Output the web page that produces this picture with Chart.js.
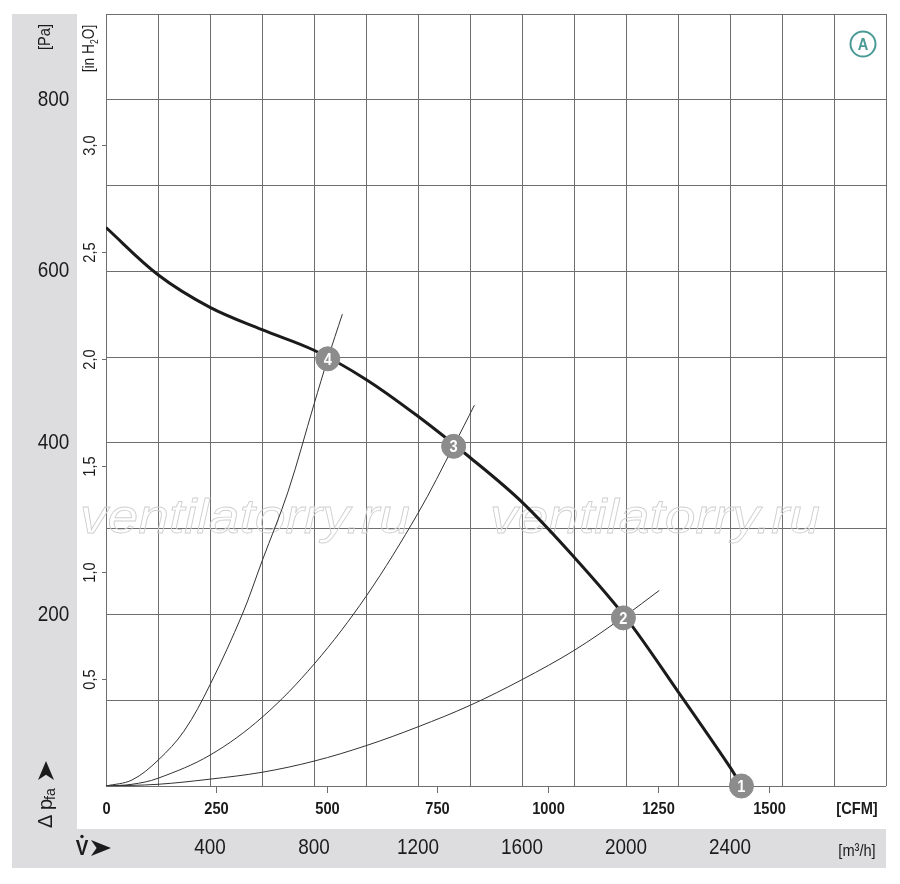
<!DOCTYPE html>
<html>
<head>
<meta charset="utf-8">
<script src="https://cdn.jsdelivr.net/npm/chart.js@4.4.0/dist/chart.umd.min.js"></script>
<style>
	html, body { margin: 0; padding: 0; background: #fff; }
	#wrap { width: 900px; height: 884px; }
</style>
</head>
<body>
<div id="wrap"><canvas id="fanChart" width="900" height="884"></canvas></div>
<script>
(function(){
	// fan curve, flow in m3/h, pressure in Pa
	const fanFlow = [0, 200, 400, 600, 800, 1000, 1200, 1400, 1600, 1800, 2000, 2200, 2400, 2444];
	const fanPa   = [651, 596, 558, 532, 508, 474, 431, 383, 331, 267, 196, 110, 22, 0];

	// system curves (thin)
	const sysAFlow = [0, 100, 200, 300, 400, 524, 600, 700, 800, 853, 909];
	const sysAPa   = [0, 7, 30, 64, 118, 200, 262, 343, 445, 498, 550];
	const sysBFlow = [0, 100, 200, 400, 600, 800, 1000, 1200, 1338, 1417];
	const sysBPa   = [0, 2, 9, 36, 80, 142, 221, 318, 397, 444];
	const sysCFlow = [0, 200, 400, 600, 800, 1000, 1200, 1400, 1600, 1800, 1990, 2128];
	const sysCPa   = [0, 2, 8, 16, 29, 47, 69, 94, 124, 158, 197, 228];

	// operating points
	const opLabels = ['1', '2', '3', '4'];
	const opFlow   = [2444, 1990, 1337, 853];
	const opPa     = [0, 196, 396, 498];

	// tick labels
	const paTicks    = [200, 400, 600, 800];
	const inH2OTicks = [0.5, 1.0, 1.5, 2.0, 2.5, 3.0];
	const cfmTicks   = [0, 250, 500, 750, 1000, 1250, 1500];
	const m3hTicks   = [400, 800, 1200, 1600, 2000, 2400];

	const PA_PER_INH2O = 249.089;
	const M3H_PER_CFM = 1.69901;

	const FONT = '"Liberation Sans", Arial, sans-serif';
	const GRID = '#6e6e6e';
	const BAND = '#dddddf';
	const INK = '#1b1b1b';
	const SQ = 0.86; // squeeze to imitate the condensed face of the print

	function pts(xs, ys){
		return xs.map((x, i) => ({x: x, y: ys[i]}));
	}

	// text squeezed horizontally, optionally rotated
	function label(ctx, text, x, y, font, rot){
		ctx.save();
		ctx.translate(x, y);
		if(rot) ctx.rotate(-Math.PI / 2);
		ctx.scale(SQ, 1);
		ctx.font = font;
		ctx.textAlign = 'center';
		ctx.textBaseline = 'middle';
		ctx.fillText(text, 0, 0);
		ctx.restore();
	}

	// arrowhead as in the print, local frame pointing +x
	function arrowHead(ctx, len, half){
		ctx.beginPath();
		ctx.moveTo(len, 0);
		ctx.lineTo(0, -half);
		ctx.lineTo(len * 0.28, 0);
		ctx.lineTo(0, half);
		ctx.closePath();
		ctx.fill();
	}

	const decor = {
		id: 'decor',
		beforeDraw(chart){
			const ctx = chart.ctx;
			ctx.save();
			ctx.fillStyle = '#fff';
			ctx.fillRect(0, 0, chart.width, chart.height);
			ctx.fillStyle = BAND;
			ctx.fillRect(12, 14, 65, 815);
			ctx.fillRect(12, 829, 874, 39);
			ctx.restore();
		},
		beforeDatasetsDraw(chart){
			const ctx = chart.ctx;
			ctx.save();
			ctx.font = 'italic 48px ' + FONT;
			ctx.strokeStyle = '#cfcfcf';
			ctx.lineWidth = 0.8;
			ctx.textBaseline = 'alphabetic';
			const word = 'ventilatorry.ru';
			const w = ctx.measureText(word).width;
			[[80, 410], [490, 820]].forEach(([x0, x1]) => {
				ctx.save();
				ctx.translate(x0, 533);
				ctx.scale((x1 - x0) / w, 1);
				ctx.strokeText(word, 0, 0);
				ctx.restore();
			});
			ctx.restore();
		},
		afterDatasetsDraw(chart){
			const ctx = chart.ctx;
			const meta = chart.getDatasetMeta(0);
			ctx.save();
			ctx.fillStyle = '#fff';
			meta.data.forEach((pt, i) => {
				label(ctx, opLabels[i], pt.x, pt.y + 1, 'bold 17px ' + FONT);
			});
			ctx.restore();
		},
		afterDraw(chart){
			const ctx = chart.ctx;
			const xs = chart.scales.x, ys = chart.scales.y;
			const area = chart.chartArea;
			ctx.save();
			ctx.fillStyle = INK;
			ctx.strokeStyle = GRID;
			ctx.lineWidth = 1;

			// Pa labels in the grey band
			paTicks.forEach(v => label(ctx, String(v), 53.5, ys.getPixelForValue(v), '22px ' + FONT));
			label(ctx, '[Pa]', 45, 37, '17px ' + FONT, true);

			// in H2O axis
			inH2OTicks.forEach(v => {
				const y = Math.round(ys.getPixelForValue(v * PA_PER_INH2O)) + 0.5;
				ctx.beginPath();
				ctx.moveTo(area.left - 4, y);
				ctx.lineTo(area.left, y);
				ctx.stroke();
				label(ctx, v.toFixed(1).replace('.', ','), 90, y, '17px ' + FONT, true);
			});
			// [in H2O] with subscript
			ctx.save();
			ctx.translate(90, 48.5);
			ctx.rotate(-Math.PI / 2);
			ctx.scale(SQ, 1);
			ctx.textBaseline = 'middle';
			ctx.textAlign = 'left';
			const big = '16px ' + FONT, small = '10px ' + FONT;
			ctx.font = big;
			const wa = ctx.measureText('[in H').width;
			const wc = ctx.measureText('O]').width;
			ctx.font = small;
			const wb = ctx.measureText('2').width;
			let cx = -(wa + wb + wc) / 2;
			ctx.font = big;
			ctx.fillText('[in H', cx, 0);
			cx += wa;
			ctx.font = small;
			ctx.fillText('2', cx, 5);
			cx += wb;
			ctx.font = big;
			ctx.fillText('O]', cx, 0);
			ctx.restore();

			// delta p_fa with arrow
			ctx.save();
			ctx.translate(46, 795);
			ctx.rotate(-Math.PI / 2);
			ctx.textBaseline = 'middle';
			ctx.textAlign = 'left';
			ctx.font = '20px ' + FONT;
			ctx.fillText('\u0394', -33, 0);
			ctx.fillText('p', -15, 0);
			ctx.font = '14px ' + FONT;
			ctx.fillText('fa', -5, 5);
			ctx.translate(15, 0);
			arrowHead(ctx, 19, 8);
			ctx.restore();

			// CFM axis
			cfmTicks.forEach(v => {
				const x = Math.round(xs.getPixelForValue(v * M3H_PER_CFM)) + 0.5;
				if(v > 0){
					ctx.beginPath();
					ctx.moveTo(x, area.bottom);
					ctx.lineTo(x, area.bottom + 7);
					ctx.stroke();
				}
				label(ctx, String(v), x, 809, 'bold 17px ' + FONT);
			});
			label(ctx, '[CFM]', 857, 809, 'bold 17px ' + FONT);

			// m3/h axis in the bottom band
			m3hTicks.forEach(v => label(ctx, String(v), xs.getPixelForValue(v), 848, '22px ' + FONT));
			label(ctx, '[m\u00b3/h]', 857, 851, '17px ' + FONT);

			// V-dot with arrow
			label(ctx, 'V', 82, 849, 'bold 22px ' + FONT);
			ctx.beginPath();
			ctx.arc(82, 836.5, 1.7, 0, Math.PI * 2);
			ctx.fill();
			ctx.save();
			ctx.translate(91, 848);
			arrowHead(ctx, 20, 8);
			ctx.restore();

			// circled A
			ctx.strokeStyle = '#4a9a96';
			ctx.fillStyle = '#4a9a96';
			ctx.lineWidth = 2;
			ctx.beginPath();
			ctx.arc(863, 44, 12.5, 0, Math.PI * 2);
			ctx.stroke();
			label(ctx, 'A', 863, 45, 'bold 17px ' + FONT);
			ctx.restore();
		}
	};

	const thin = {
		borderColor: '#333',
		borderWidth: 1,
		pointRadius: 0,
		tension: 0.35,
		order: 2
	};

	new Chart(document.getElementById('fanChart'), {
		type: 'line',
		data: {
			datasets: [
				{
					data: pts(opFlow, opPa),
					showLine: false,
					clip: false,
					pointRadius: 12,
					pointBackgroundColor: '#8c8c8c',
					pointBorderColor: '#8c8c8c',
					pointBorderWidth: 1,
					order: 0
				},
				{
					data: pts(fanFlow, fanPa),
					borderColor: INK,
					borderWidth: 3,
					pointRadius: 0,
					tension: 0.35,
					order: 1
				},
				Object.assign({ data: pts(sysAFlow, sysAPa) }, thin),
				Object.assign({ data: pts(sysBFlow, sysBPa) }, thin),
				Object.assign({ data: pts(sysCFlow, sysCPa) }, thin)
			]
		},
		options: {
			responsive: false,
			animation: false,
			devicePixelRatio: 1,
			layout: { padding: { left: 106, top: 14, right: 14, bottom: 98 } },
			plugins: { legend: { display: false }, tooltip: { enabled: false } },
			scales: {
				x: {
					type: 'linear', min: 0, max: 3000,
					ticks: { display: false, stepSize: 200 },
					grid: { color: GRID, drawTicks: false },
					border: { display: false }
				},
				y: {
					type: 'linear', min: 0, max: 900,
					ticks: { display: false, stepSize: 100 },
					grid: { color: GRID, drawTicks: false },
					border: { display: false }
				}
			}
		},
		plugins: [decor]
	});
})();
</script>
</body>
</html>
